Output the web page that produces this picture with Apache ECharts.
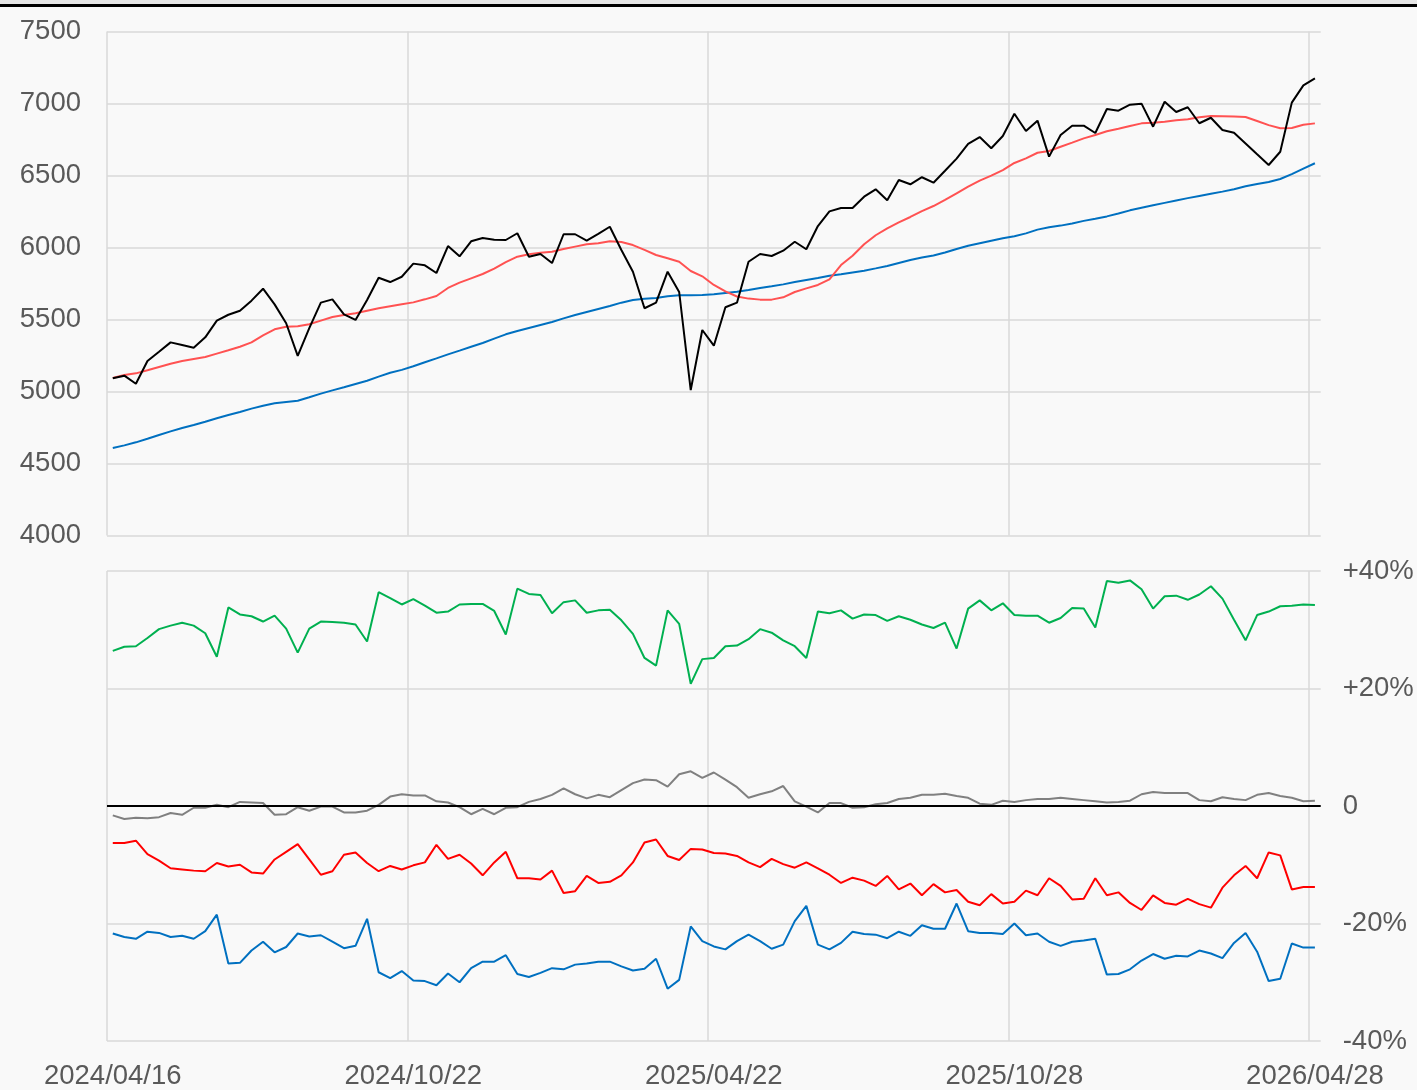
<!DOCTYPE html>
<html>
<head>
<meta charset="utf-8">
<script src="https://cdn.jsdelivr.net/npm/echarts@6/dist/echarts.min.js"></script>
<style>
html,body{margin:0;padding:0;background:#f9f9f9;}
#strip{position:absolute;left:0;top:0;width:1417px;height:4px;background:#e6e6e6;z-index:2;}
#bar{position:absolute;left:0;top:4px;width:1417px;height:3px;background:#000;z-index:2;}
#c{position:absolute;left:0;top:0;width:1417px;height:1090px;}
</style>
</head>
<body>
<div id="strip"></div><div id="bar"></div>
<div id="c"></div>
<script>
const dates = [
'2024/04/16','2024/04/23','2024/04/30','2024/05/07','2024/05/14','2024/05/21','2024/05/28','2024/06/04','2024/06/11','2024/06/18',
'2024/06/25','2024/07/09','2024/07/16','2024/07/23','2024/07/30','2024/08/06','2024/08/13','2024/08/20','2024/08/27','2024/09/03',
'2024/09/10','2024/09/17','2024/09/24','2024/10/01','2024/10/08','2024/10/15','2024/10/22','2024/10/29','2024/11/05','2024/11/12',
'2024/11/19','2024/11/26','2024/12/03','2024/12/10','2024/12/17','2024/12/24','2024/12/31','2025/01/07','2025/01/14','2025/01/21',
'2025/01/28','2025/02/04','2025/02/11','2025/02/18','2025/02/25','2025/03/04','2025/03/11','2025/03/18','2025/03/25','2025/04/01',
'2025/04/08','2025/04/15','2025/04/22','2025/04/29','2025/05/06','2025/05/13','2025/05/20','2025/05/27','2025/06/03','2025/06/10',
'2025/06/17','2025/06/24','2025/07/08','2025/07/15','2025/07/22','2025/07/29','2025/08/05','2025/08/12','2025/08/19','2025/08/26',
'2025/09/02','2025/09/09','2025/09/16','2025/09/23','2025/09/30','2025/10/07','2025/10/14','2025/10/21','2025/10/28','2025/11/04',
'2025/11/11','2025/11/18','2025/11/25','2025/12/02','2025/12/09','2025/12/16','2025/12/23','2025/12/30','2026/01/06','2026/01/13',
'2026/01/20','2026/01/27','2026/02/03','2026/02/10','2026/02/17','2026/02/24','2026/03/03','2026/03/10','2026/03/17','2026/03/24',
'2026/03/31','2026/04/07','2026/04/14','2026/04/21','2026/04/28'];

const price = [
5092,5110,5054,5212,5276,5341,5323,5304,5376,5492,
5533,5561,5631,5714,5605,5474,5247,5440,5617,5640,
5536,5497,5635,5790,5760,5797,5888,5876,5823,6010,
5939,6043,6066,6054,6052,6099,5936,5955,5892,6092,
6092,6047,6094,6144,5983,5832,5578,5617,5832,5691,
5010,5427,5318,5585,5617,5901,5955,5941,5978,6040,
5988,6149,6251,6274,6274,6353,6404,6328,6469,6439,
6488,6450,6533,6617,6719,6767,6689,6774,6929,6809,
6881,6631,6781,6846,6846,6795,6962,6950,6992,6999,
6839,7012,6941,6974,6863,6901,6816,6797,6722,6647,
6573,6665,7006,7126,7175];

const maShort = [
5094,5115,5126,5147,5170,5193,5212,5226,5240,5263,
5286,5311,5341,5390,5432,5450,5453,5467,5492,5517,
5531,5543,5561,5578,5592,5606,5619,5640,5663,5719,
5756,5786,5816,5853,5899,5936,5953,5964,5971,5990,
6006,6022,6029,6043,6038,6017,5983,5948,5925,5901,
5837,5800,5740,5695,5660,5645,5638,5638,5654,5691,
5716,5740,5779,5878,5943,6022,6085,6133,6175,6212,
6253,6288,6330,6376,6422,6464,6499,6538,6587,6619,
6658,6670,6700,6728,6758,6781,6807,6825,6844,6862,
6867,6874,6883,6890,6904,6913,6912,6909,6906,6878,
6850,6828,6830,6853,6862];

const maLong = [
4608,4626,4647,4672,4698,4723,4747,4767,4790,4814,
4837,4858,4881,4901,4918,4927,4936,4960,4985,5008,
5029,5052,5075,5103,5130,5150,5175,5203,5230,5258,
5284,5311,5337,5367,5397,5420,5441,5462,5483,5508,
5531,5552,5573,5594,5617,5635,5644,5649,5661,5668,
5668,5670,5675,5684,5693,5705,5719,5731,5744,5760,
5774,5788,5804,5815,5827,5839,5855,5872,5893,5913,
5930,5945,5965,5990,6012,6030,6047,6064,6078,6098,
6124,6140,6152,6167,6185,6200,6216,6236,6258,6276,
6293,6310,6327,6343,6358,6373,6388,6405,6425,6441,
6455,6476,6510,6548,6585];

const pctGreen = [
26.4,27.1,27.2,28.6,30.1,30.7,31.2,30.7,29.4,25.4,
33.8,32.6,32.3,31.4,32.4,30.2,26.1,30.2,31.4,31.3,
31.2,30.9,28.0,36.4,35.4,34.3,35.2,34.1,32.9,33.1,
34.3,34.4,34.4,33.2,29.2,37.0,36.1,35.9,32.8,34.7,
35.0,32.9,33.3,33.4,31.6,29.3,25.2,23.9,33.3,31.0,
20.8,25.0,25.2,27.2,27.3,28.4,30.1,29.5,28.2,27.2,
25.2,33.1,32.8,33.3,31.9,32.6,32.5,31.5,32.3,31.7,
30.9,30.3,31.2,26.8,33.6,35.0,33.3,34.5,32.5,32.4,
32.4,31.2,32.0,33.7,33.6,30.4,38.3,38.0,38.4,36.9,
33.6,35.7,35.8,35.1,36.0,37.4,35.3,31.7,28.2,32.5,
33.1,34.0,34.1,34.3,34.2];

const pctGray = [
-1.6,-2.2,-2.0,-2.1,-1.9,-1.2,-1.5,-0.3,-0.3,0.2,
-0.2,0.7,0.6,0.5,-1.5,-1.4,-0.2,-0.8,-0.1,-0.1,
-1.1,-1.1,-0.8,0.2,1.6,2.0,1.8,1.8,0.8,0.6,
-0.2,-1.4,-0.5,-1.4,-0.3,-0.2,0.7,1.2,1.9,3.0,
2.0,1.3,1.9,1.5,2.7,3.9,4.5,4.4,3.3,5.4,
5.9,4.8,5.7,4.5,3.2,1.4,2.0,2.5,3.4,0.8,
-0.1,-1.1,0.5,0.5,-0.3,-0.2,0.3,0.5,1.2,1.4,
1.9,1.9,2.1,1.7,1.4,0.4,0.2,0.9,0.7,1.0,
1.2,1.2,1.4,1.2,1.0,0.8,0.6,0.7,0.9,2.0,
2.4,2.2,2.2,2.2,1.0,0.8,1.5,1.2,1.0,1.9,
2.2,1.7,1.4,0.8,0.9];

const pctRed = [
-6.3,-6.3,-5.9,-8.2,-9.3,-10.6,-10.8,-11.0,-11.1,-9.7,
-10.3,-10.0,-11.3,-11.5,-9.1,-7.8,-6.5,-9.1,-11.7,-11.1,
-8.3,-7.9,-9.7,-11.1,-10.2,-10.8,-10.1,-9.6,-6.6,-9.0,
-8.3,-9.8,-11.8,-9.6,-7.8,-12.3,-12.3,-12.5,-11.0,-14.8,
-14.5,-11.9,-13.1,-12.9,-11.8,-9.6,-6.2,-5.7,-8.5,-9.2,
-7.3,-7.4,-8.0,-8.1,-8.5,-9.6,-10.4,-9.0,-9.9,-10.5,
-9.6,-10.6,-11.7,-13.1,-12.2,-12.7,-13.6,-11.9,-14.2,-13.2,
-15.2,-13.3,-14.7,-14.3,-16.3,-16.9,-15.0,-16.6,-16.3,-14.4,
-15.2,-12.3,-13.6,-15.9,-15.8,-12.3,-15.2,-14.7,-16.5,-17.7,
-15.2,-16.5,-16.8,-15.8,-16.7,-17.3,-13.9,-11.8,-10.2,-12.3,
-7.9,-8.4,-14.2,-13.8,-13.8];

const pctBlue = [
-21.7,-22.3,-22.6,-21.4,-21.6,-22.3,-22.1,-22.6,-21.3,-18.5,
-26.8,-26.7,-24.6,-23.1,-24.9,-24.0,-21.7,-22.2,-22.0,-23.1,
-24.2,-23.8,-19.2,-28.3,-29.3,-28.1,-29.7,-29.8,-30.5,-28.5,
-30.0,-27.6,-26.5,-26.5,-25.4,-28.6,-29.1,-28.4,-27.6,-27.8,
-27.0,-26.8,-26.5,-26.5,-27.3,-28.0,-27.7,-26.0,-31.1,-29.6,
-20.5,-23.0,-23.9,-24.4,-23.0,-21.9,-23.0,-24.3,-23.6,-19.6,
-17.0,-23.6,-24.4,-23.3,-21.4,-21.8,-21.9,-22.5,-21.4,-22.1,
-20.3,-20.9,-20.9,-16.6,-21.3,-21.6,-21.6,-21.8,-20.0,-22.0,
-21.7,-23.1,-23.8,-23.1,-22.9,-22.6,-28.7,-28.6,-27.8,-26.3,
-25.2,-26.0,-25.5,-25.6,-24.6,-25.1,-25.9,-23.3,-21.6,-24.8,
-29.8,-29.4,-23.4,-24.1,-24.1];

const priceTicks = {min: 4000, max: 7500, interval: 500};
const pctTicks = {min: -40, max: 40, interval: 20};

const FONT = '"Liberation Sans", Arial, sans-serif';
const FS = 27.5;
const LABEL = '#595959';
const GRIDC = '#d9d9d9';

const chart = echarts.init(document.getElementById('c'));
const xBase = (gi, showLabel) => ({
  type: 'category', gridIndex: gi, data: dates, boundaryGap: true,
  axisLine: {show: false}, axisTick: {show: false},
  axisLabel: {show: showLabel, interval: 25, fontSize: FS, color: LABEL, fontFamily: FONT, margin: 21},
  splitLine: {show: true, interval: 25, showMaxLine: false, lineStyle: {color: GRIDC, width: 1.5}}
});
const line = (name, data, color, xi, yi, extra) => Object.assign({
  name, type: 'line', data, xAxisIndex: xi, yAxisIndex: yi, symbol: 'none',
  lineStyle: {color, width: 2}, itemStyle: {color}, silent: true, z: 3
}, extra || {});

chart.setOption({
  animation: false,
  backgroundColor: 'transparent',
  grid: [
    {left: 107, right: 96.3, top: 31.5, height: 504},
    {left: 107, right: 96.3, top: 571, height: 471}
  ],
  xAxis: [xBase(0, false), xBase(1, true)],
  yAxis: [
    {type: 'value', gridIndex: 0, position: 'left', min: priceTicks.min, max: priceTicks.max, interval: priceTicks.interval,
     axisLine: {show: false}, axisTick: {show: false},
     axisLabel: {fontSize: FS, color: LABEL, fontFamily: FONT, margin: 26, formatter: v => String(v)},
     splitLine: {show: true, lineStyle: {color: GRIDC, width: 1.5}}},
    {type: 'value', gridIndex: 1, position: 'right', min: pctTicks.min, max: pctTicks.max, interval: pctTicks.interval,
     axisLine: {show: false}, axisTick: {show: false},
     axisLabel: {fontSize: FS, color: LABEL, fontFamily: FONT, margin: 22,
       formatter: v => v > 0 ? '+' + v + '%' : (v < 0 ? v + '%' : '0')},
     splitLine: {show: true, lineStyle: {color: GRIDC, width: 1.5}}}
  ],
  series: [
    line('MA long', maLong, '#0070c0', 0, 0),
    line('MA short', maShort, '#ff5252', 0, 0),
    line('Price', price, '#000000', 0, 0),
    line('Gray', pctGray, '#808080', 1, 1, {
      markLine: {silent: true, symbol: 'none', label: {show: false},
        lineStyle: {color: '#000', width: 2, type: 'solid'}, data: [{yAxis: 0}]}
    }),
    line('Green', pctGreen, '#00b050', 1, 1),
    line('Red', pctRed, '#ff0000', 1, 1),
    line('Blue', pctBlue, '#0070c0', 1, 1)
  ]
});
</script>
</body>
</html>
